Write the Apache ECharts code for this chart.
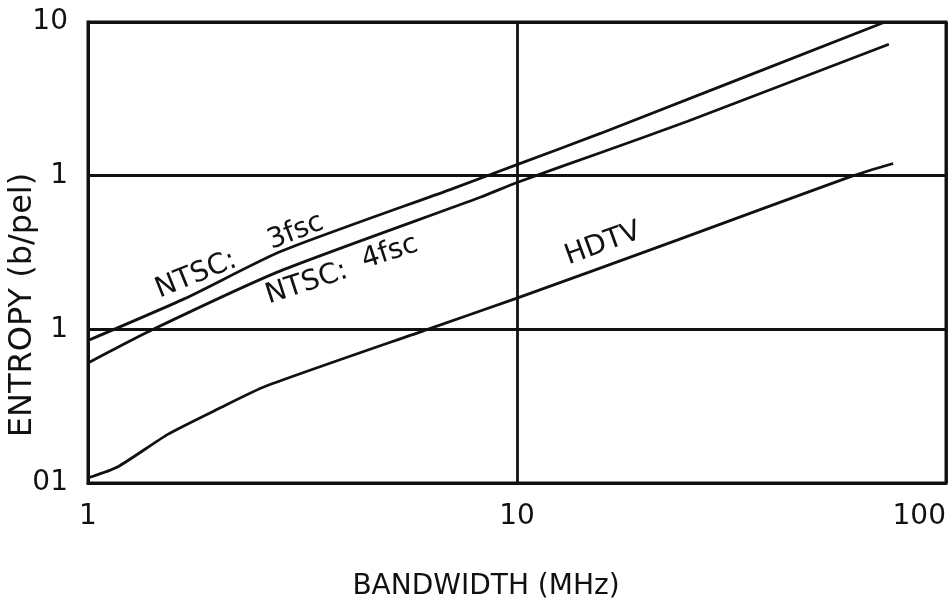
<!DOCTYPE html>
<html><head><meta charset="utf-8">
<script src="https://cdn.jsdelivr.net/npm/echarts@6/dist/echarts.min.js"></script>
<style>html,body{margin:0;padding:0;background:#fff}#c{width:949px;height:606px}</style>
</head><body><div id="c"></div>
<script>
// Bandwidth (MHz) and entropy (b/pel) (log-log)
const ntsc3fscBandwidth = [1, 1.685, 2.81, 7.01, 10, 15.7, 72.1];
const ntsc3fscEntropy   = [0.0846, 0.159, 0.321, 0.815, 1.18, 1.89, 10];
const ntsc4fscBandwidth = [1, 1.419, 2.81, 8.24, 10, 15.7, 25.0, 73.6];
const ntsc4fscEntropy   = [0.0604, 0.1, 0.240, 0.726, 0.903, 1.416, 2.26, 7.17];
const hdtvBandwidth     = [1, 1.175, 1.538, 2.013, 2.593, 6.19, 10, 23.7, 60.8, 75.3];
const hdtvEntropy       = [0.0108, 0.01277, 0.0208, 0.0304, 0.0426, 0.1, 0.1595, 0.382, 1, 1.2];
// tick labels as printed (by decade exponent)
const xTickLabels = {0: '1', 1: '10', 2: '100'};
const yTickLabels = {'-2': '01', '-1': '1', 0: '1', 1: '10'};
const yTitle = 'ENTROPY (b/pel)';
// annotation texts with anchor (data coords) and angle (deg)
const annoTexts  = ['NTSC:', '3fsc', 'NTSC:', '4fsc', 'HDTV'];
const annoX      = [1.47, 2.68, 2.64, 4.42, 13.2];
const annoY      = [0.159, 0.330, 0.146, 0.247, 0.262];
const annoAngle  = [22, 21, 18, 18, 20];

function pairs(xs, ys) { return xs.map((x, i) => [x, ys[i]]); }
const INK = '#111';
const FONT = 'DejaVu Sans';
const chart = echarts.init(document.getElementById('c'), null, {renderer: 'canvas'});
function lineSeries(name, xs, ys) {
  return {
    name, type: 'line', data: pairs(xs, ys), showSymbol: false, symbol: 'none',
    smooth: 0.2, lineStyle: {color: INK, width: 2.8}, silent: true, animation: false
  };
}
chart.setOption({
  backgroundColor: '#fff',
  animation: false,
  grid: {left: 88, right: 3, top: 22, bottom: 123, show: true, borderColor: INK, borderWidth: 3,
         containLabel: false, outerBoundsMode: 'none'},
  xAxis: {
    type: 'log', logBase: 10, min: 1, max: 100,
    name: 'BANDWIDTH (MHz)', nameLocation: 'middle', nameGap: 90,
    nameTextStyle: {fontFamily: FONT, fontSize: 28, color: INK, padding: [0, 62, 0, 0]},
    axisLine: {show: true, lineStyle: {color: INK, width: 3}},
    axisTick: {show: false},
    axisLabel: {
      fontFamily: FONT, fontSize: 28, color: INK, margin: 20, alignMaxLabel: 'right',
      formatter: v => xTickLabels[Math.round(Math.log10(v))] ?? ''
    },
    splitLine: {show: true, lineStyle: {color: INK, width: 2.8}}
  },
  yAxis: {
    type: 'log', logBase: 10, min: 0.01, max: 10,
    axisLine: {show: true, lineStyle: {color: INK, width: 3}},
    axisTick: {show: false},
    axisLabel: {
      fontFamily: FONT, fontSize: 28, color: INK, margin: 20,
      formatter: v => yTickLabels[Math.round(Math.log10(v))] ?? ''
    },
    splitLine: {show: true, lineStyle: {color: INK, width: 2.8}}
  },
  series: [
    lineSeries('NTSC: 3fsc', ntsc3fscBandwidth, ntsc3fscEntropy),
    lineSeries('NTSC: 4fsc', ntsc4fscBandwidth, ntsc4fscEntropy),
    lineSeries('HDTV', hdtvBandwidth, hdtvEntropy)
  ]
});
const graphics = annoTexts.map((t, i) => {
  const p = chart.convertToPixel({gridIndex: 0}, [annoX[i], annoY[i]]);
  return {
    type: 'text', x: p[0], y: p[1], rotation: annoAngle[i] * Math.PI / 180,
    style: {x: 0, y: 6, text: t, fill: INK, font: '28px "DejaVu Sans"', align: 'left', verticalAlign: 'bottom'},
    silent: true
  };
});
graphics.push({
  type: 'text', x: 23, y: 305, rotation: Math.PI / 2,
  style: {x: 0, y: 0, text: yTitle, fill: INK, font: '32px "DejaVu Sans"', align: 'center', verticalAlign: 'middle'},
  silent: true
});
chart.setOption({graphic: graphics});
</script></body></html>
